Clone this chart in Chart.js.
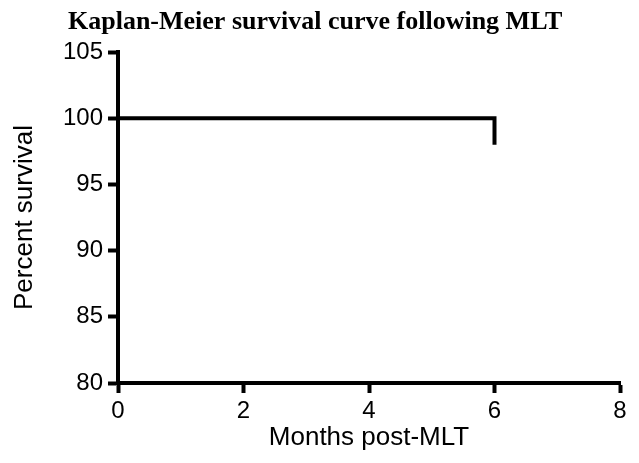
<!DOCTYPE html>
<html>
<head>
<meta charset="utf-8">
<script src="https://cdn.jsdelivr.net/npm/chart.js@4/dist/chart.umd.min.js"></script>
<style>
  html, body { margin: 0; padding: 0; background: #fff; }
  #wrap { width: 639px; height: 463px; }
</style>
</head>
<body>
<div id="wrap"><canvas id="km"></canvas></div>
<script>
// survival curve
var months = [0, 6, 6];
var survival = [100, 100, 98];
var xTicks = [0, 2, 4, 6, 8];
var yTicks = [80, 85, 90, 95, 100, 105];

var chartTitle = 'Kaplan-Meier survival curve following MLT';

// title drawn in a serif bold face, left aligned like the original
var titlePlugin = {
    id: 'kmTitle',
    afterDraw: function (chart) {
        var ctx = chart.ctx;
        ctx.save();
        ctx.font = 'bold 26px "Liberation Serif", "Times New Roman", serif';
        ctx.fillStyle = '#000';
        ctx.textBaseline = 'alphabetic';
        ctx.textAlign = 'left';
        ctx.fillText(chartTitle, 68, 29);
        ctx.restore();
    }
};

var pts = [];
for (var i = 0; i < months.length; i++) {
    pts.push({ x: months[i], y: survival[i] });
}

var tickFont = { family: '"Liberation Sans", Arial, sans-serif', size: 24 };
var titleFont = { family: '"Liberation Sans", Arial, sans-serif', size: 26 };

var ctx = document.getElementById('km');
var KmChart = new Chart(ctx, {
    type: 'line',
    data: {
        datasets: [{
            label: 'Survival',
            data: pts,
            borderColor: '#000',
            borderWidth: 4,
            pointRadius: 0,
            fill: false,
            tension: 0,
            borderCapStyle: 'butt',
            borderJoinStyle: 'miter'
        }]
    },
    options: {
        responsive: true,
        maintainAspectRatio: false,
        animation: false,
        layout: { padding: { top: 52, right: 19, left: 0, bottom: 0 } },
        plugins: {
            legend: { display: false },
            tooltip: { enabled: false },
            title: { display: false }
        },
        scales: {
            x: {
                type: 'linear',
                min: 0,
                max: 8,
                afterBuildTicks: function (s) { s.ticks = xTicks.map(function (v) { return { value: v }; }); },
                afterFit: function (s) { s.height = 80; },
                ticks: { color: '#000', font: tickFont, padding: 4, maxRotation: 0 },
                grid: { display: true, drawOnChartArea: false, drawTicks: true, tickLength: 10, tickWidth: 4, tickColor: '#000', color: '#000' },
                border: { display: true, width: 4, color: '#000' },
                title: { display: true, text: 'Months post-MLT', color: '#000', font: titleFont, padding: { top: 0, bottom: 10 } }
            },
            y: {
                type: 'linear',
                min: 80,
                max: 105,
                afterBuildTicks: function (s) { s.ticks = yTicks.map(function (v) { return { value: v }; }); },
                afterFit: function (s) { s.width = 118; },
                ticks: { color: '#000', font: tickFont, padding: 5 },
                grid: { display: true, drawOnChartArea: false, drawTicks: true, tickLength: 10, tickWidth: 4, tickColor: '#000', color: '#000' },
                border: { display: true, width: 4, color: '#000' },
                title: { display: true, text: 'Percent survival', color: '#000', font: titleFont, padding: { top: 9, bottom: 0 } }
            }
        }
    },
    plugins: [titlePlugin]
});
</script>
</body>
</html>
